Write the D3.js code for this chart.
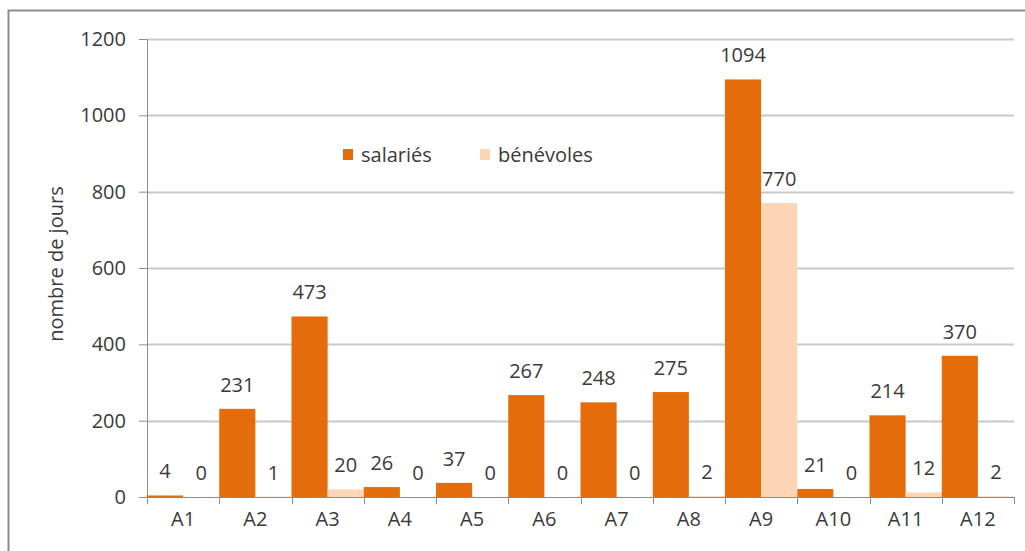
<!DOCTYPE html>
<meta charset="utf-8">
<style type="text/css">
body { margin: 0; background: #fff; }
text { font-family: "Open Sans", sans-serif; fill: #3a3a3a; }
</style>
<svg width="1025" height="551"></svg>
<script src="https://d3js.org/d3.v7.min.js"></script>
<script>

var categories = ["A1", "A2", "A3", "A4", "A5", "A6", "A7", "A8", "A9", "A10", "A11", "A12"];
var seriesNames = ["salariés", "bénévoles"];
var salaries = [4, 231, 473, 26, 37, 267, 248, 275, 1094, 21, 214, 370];
var benevoles = [0, 1, 20, 0, 0, 0, 0, 2, 770, 0, 12, 2];
var yTicks = [0, 200, 400, 600, 800, 1000, 1200];

var colors = ["#e46c0a", "#fcd5b5"];

var svg = d3.select("svg"),
		margin = {top: 39, right: 11, bottom: 54, left: 147},
		width = 1025 - margin.left - margin.right,
		height = 551 - margin.top - margin.bottom;

// chart frame (cut off on the right and bottom in the source)
svg.append("rect")
		.attr("x", 8.5)
		.attr("y", 10.5)
		.attr("width", 1030)
		.attr("height", 560)
		.attr("fill", "none")
		.attr("stroke", "#8c8c8c")
		.attr("stroke-width", 2);

var g = svg.append("g")
		.attr("transform", "translate(" + margin.left + "," + margin.top + ")");

var x0 = d3.scaleBand()
		.domain(categories)
		.range([0, width])
		.padding(0);

var x1 = d3.scaleBand()
		.domain(seriesNames)
		.range([0, x0.bandwidth()])
		.padding(0);

var y = d3.scaleLinear()
		.domain([0, 1200])
		.range([height, 0]);

// gridlines
g.append("g")
		.selectAll("line")
		.data(yTicks.slice(1))
		.enter().append("line")
			.attr("x1", 0)
			.attr("x2", width)
			.attr("y1", function(d) { return Math.round(y(d)) + 0.5; })
			.attr("y2", function(d) { return Math.round(y(d)) + 0.5; })
			.attr("stroke", "#c8c8c8")
			.attr("stroke-width", 2);

// y axis
var yAxis = g.append("g")
		.call(d3.axisLeft(y).tickValues(yTicks).tickFormat(d3.format("d")).tickSize(8).tickPadding(13));
yAxis.select(".domain").attr("stroke", "#8c8c8c");
yAxis.selectAll(".tick line").attr("stroke", "#8c8c8c");
yAxis.selectAll(".tick text")
		.attr("font-size", 20)
		.attr("font-family", "Open Sans")
		.attr("fill", "#3a3a3a");

// bars
var rows = categories.map(function(c, i) {
	return {cat: c, values: [salaries[i], benevoles[i]]};
});

var groups = g.append("g")
		.selectAll("g")
		.data(rows)
		.enter().append("g")
			.attr("transform", function(d) { return "translate(" + x0(d.cat) + ",0)"; });

groups.selectAll("rect")
		.data(function(d) { return d.values.map(function(v, j) { return {name: seriesNames[j], value: v, j: j}; }); })
		.enter().append("rect")
			.attr("x", function(d) { return x1(d.name); })
			.attr("y", function(d) { return y(d.value); })
			.attr("width", x1.bandwidth())
			.attr("height", function(d) { return height - y(d.value); })
			.attr("fill", function(d) { return colors[d.j]; });

groups.selectAll("text.val")
		.data(function(d) { return d.values.map(function(v, j) { return {name: seriesNames[j], value: v}; }); })
		.enter().append("text")
			.attr("class", "val")
			.attr("x", function(d) { return x1(d.name) + x1.bandwidth() / 2; })
			.attr("y", function(d) { return y(d.value) - 17; })
			.attr("text-anchor", "middle")
			.attr("font-size", 20)
			.text(function(d) { return d.value; });

// x axis
var xAxis = g.append("g")
		.attr("transform", "translate(0," + height + ")")
		.call(d3.axisBottom(x0).tickSize(0).tickPadding(15));
xAxis.select(".domain").attr("stroke", "#8c8c8c");
xAxis.selectAll(".tick text")
		.attr("font-size", 20)
		.attr("font-family", "Open Sans")
		.attr("fill", "#3a3a3a");
xAxis.append("g")
		.selectAll("line")
		.data(categories.map(function(c) { return x0(c); }).concat([width]))
		.enter().append("line")
			.attr("x1", function(d) { return Math.round(d) + 0.5; })
			.attr("x2", function(d) { return Math.round(d) + 0.5; })
			.attr("y1", 0)
			.attr("y2", 7)
			.attr("stroke", "#8c8c8c");

// y axis title
svg.append("text")
		.attr("transform", "translate(63," + (margin.top + height / 2 - 4) + ") rotate(-90)")
		.attr("text-anchor", "middle")
		.attr("font-size", 20)
		.attr("fill", "#202020")
		.text("nombre de jours");

// legend
var legend = svg.append("g")
		.selectAll("g")
		.data(seriesNames)
		.enter().append("g")
			.attr("transform", function(d, i) { return "translate(" + [343, 480][i] + ",149)"; });

legend.append("rect")
		.attr("width", 10)
		.attr("height", 11)
		.attr("fill", function(d, i) { return colors[i]; });

legend.append("text")
		.attr("x", 18)
		.attr("y", 6)
		.attr("dy", "0.35em")
		.attr("font-size", 20)
		.text(function(d) { return d; });

</script>
